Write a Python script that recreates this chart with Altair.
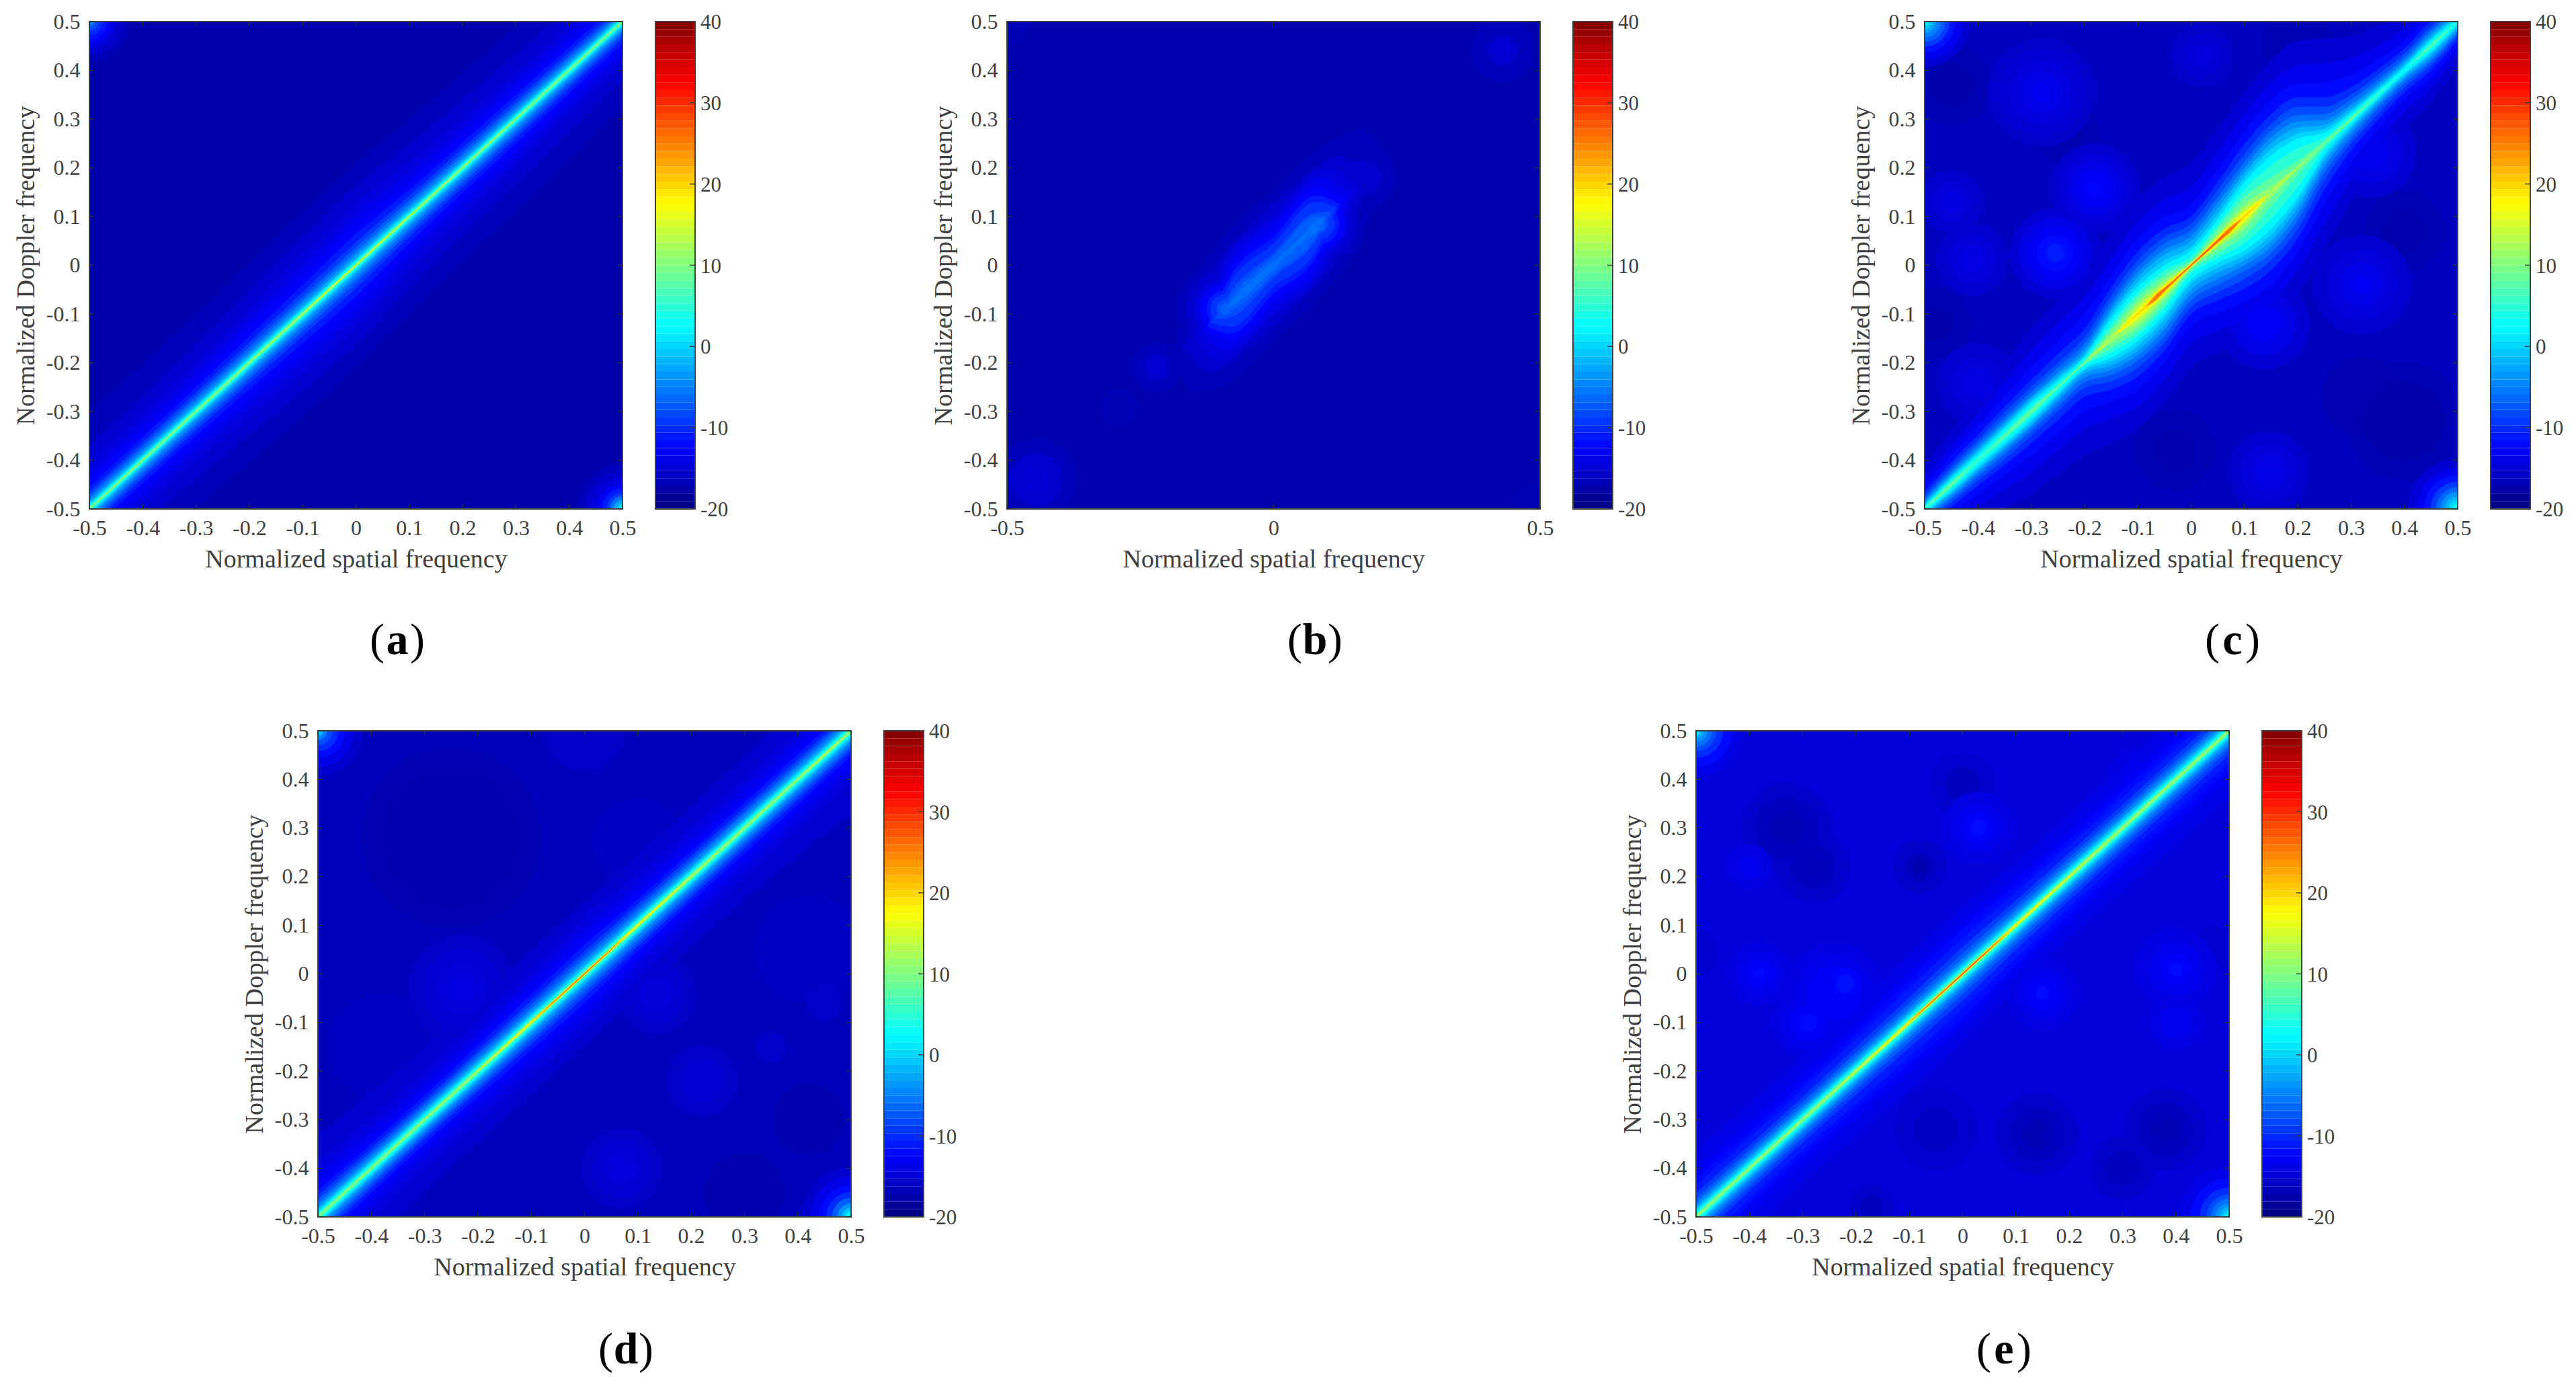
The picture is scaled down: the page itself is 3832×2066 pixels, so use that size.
import math
import altair as alt
import pandas as pd

FONT = "Liberation Serif"
INK = "#404040"
W = 793
HTOP = 725
HBOT = 723

JET_STOPS = [-20, -12.5, 2.5, 17.5, 32.5, 40]
JET_COLORS = ["#000080", "#0000ff", "#00ffff", "#ffff00", "#ff0000", "#800000"]
FULL_TICKS = [-0.5, -0.4, -0.3, -0.2, -0.1, 0, 0.1, 0.2, 0.3, 0.4, 0.5]
SPARSE_TICKS = [-0.5, 0, 0.5]
CBAR_TICKS = [-20, -10, 0, 10, 20, 30, 40]
CBAR_BINS = 64

RIDGE_KNOTS = [-0.5, -0.3, -0.1, 0, 0.1, 0.3, 0.5]
C_KNOTS = [-0.5, -0.45, -0.4, -0.35, -0.3, -0.25, -0.2, -0.15, -0.1, -0.05, 0,
           0.05, 0.1, 0.15, 0.2, 0.25, 0.3, 0.35, 0.4, 0.45, 0.5]

# panel (a)
A_BASE = -17.5
A_LEVELS = [-16.5, -15.5, -14.5, -13.5, -12.5, -11, -9, -7, -5, -3, -1, 1, 3, 5, 7, 9, 11]
A_WIDTHS = [
    [.20, .20, .21, .21, .20, .19, .18],
    [.13, .14, .16, .165, .15, .135, .12],
    [.10, .105, .125, .13, .115, .10, .09],
    [.078, .082, .10, .105, .09, .08, .072],
    [.06, .066, .08, .085, .072, .064, .058],
    [.046, .05, .06, .064, .055, .05, .045],
    [.036, .039, .045, .047, .042, .039, .035],
    [.029, .031, .035, .036, .033, .031, .028],
    [.023, .024, .027, .028, .026, .024, .022],
    [.017, .018, .02, .021, .019, .018, .017],
    [.013, .013, .015, .015, .014, .013, .0125],
    [.0095, .0095, .011, .011, .010, .0095, .009],
    [.0072, .0072, .0082, .0082, .0075, .0072, .0068],
    [.0052, .0052, .006, .006, .0055, .0052, .0048],
    [.0036, .0036, .0045, .0045, .004, .0036, .0032],
    [.0022, .0022, .0032, .0032, .0027, .0022, .002],
    [.0008, .001, .002, .0022, .0018, .001, .0006],
]
A_PIECES = [
    (13, [-.2, -.1, 0, .1, .2], [0, .0012, .0014, .0012, 0]),
    (15, [-.12, -.08, 0, .08, .12], [0, .0008, .001, .0008, 0]),
]
A_BLOBS = [
    (-.5, .5, [(-16.5, .09), (-15.5, .075), (-14.5, .06), (-13, .05), (-11.5, .04), (-10, .03), (-8, .02), (-6, .012), (-4, .006)]),
    (.5, -.5, [(-16.5, .10), (-15.5, .085), (-14.5, .07), (-13, .055), (-11, .045), (-9, .035), (-6, .028), (-3, .02), (0, .012), (3, .006)]),
]

# panel (b)
B_BASE = -17.3
B_PIECES = [
    (-16.5, [-.19, -.15, -.1, 0, .1, .16, .22], [0, .11, .15, .155, .15, .12, 0]),
    (-15.5, [-.17, -.12, -.05, .05, .12, .18], [0, .10, .125, .125, .105, 0]),
    (-14.5, [-.15, -.1, 0, .1, .16], [0, .095, .105, .10, 0]),
    (-13.5, [-.135, -.09, 0, .09, .145], [0, .085, .09, .09, 0]),
    (-12.5, [-.13, -.08, 0, .08, .135], [0, .075, .075, .08, 0]),
    (-11, [-.125, -.08, 0, .08, .125], [0, .06, .058, .063, 0]),
    (-9.5, [-.118, -.08, 0, .08, .118], [0, .046, .044, .05, 0]),
    (-8, [-.11, -.08, 0, .08, .11], [0, .026, .025, .028, 0]),
    (-7, [-.10, -.07, 0, .08, .10], [0, .018, .018, .02, 0]),
    (-6, [-.09, -.06, -.02, .02, .06, .085, .095], [0, .01, .01, .006, .008, .01, 0]),
]
B_BLOBS = [
    (.43, .44, [(-16.5, .07), (-15.5, .035), (-15, .02)]),
    (-.445, -.44, [(-16.5, .09), (-15.5, .06), (-15, .03)]),
    (-.22, -.21, [(-16.5, .055), (-15.5, .03), (-15, .015)]),
    (-.29, -.29, [(-16.8, .04)]),
    (.17, .18, [(-16.5, .07), (-15.5, .04)]),
    (-.5, .5, [(-16.8, .05)]),
    (.5, -.5, [(-16.8, .06)]),
    (-.09, -.09, [(-16.5, .106), (-15.5, .088), (-14.5, .07), (-13.5, .06), (-12.5, .053), (-11, .042), (-9.5, .033), (-8, .02), (-7, .013)]),
    (.085, .085, [(-16.5, .105), (-15.5, .088), (-14.5, .07), (-13.5, .062), (-12.5, .056), (-11, .045), (-9.5, .035), (-8, .021), (-7, .015)]),
]

# panel (c)
C_BASE = -16.3
C_LEVELS = [-15, -13.5, -12, -10, -8, -6, -4, -2, 0, 2, 5, 8, 11, 14, 17, 20]
C_WIDTHS = [
    [.09, .11, .13, .15, .17, .18, .19, .215, .235, .23, .21, .23, .255, .27, .26, .215, .17, .14, .12, .115, .09],
    [.065, .08, .095, .11, .125, .13, .135, .165, .19, .185, .16, .185, .21, .225, .21, .165, .125, .10, .085, .085, .065],
    [.048, .06, .07, .08, .09, .095, .10, .13, .155, .15, .125, .148, .175, .19, .172, .125, .09, .072, .06, .065, .05],
    [.036, .046, .052, .06, .065, .068, .07, .105, .128, .125, .10, .122, .148, .16, .145, .095, .065, .052, .045, .05, .038],
    [.028, .037, .042, .048, .05, .05, .052, .088, .11, .108, .085, .105, .128, .14, .125, .075, .05, .04, .035, .04, .03],
    [.022, .03, .034, .038, .04, .04, .04, .075, .096, .095, .072, .09, .112, .125, .108, .06, .04, .03, .027, .033, .025],
    [.017, .025, .027, .03, .032, .03, .03, .065, .085, .082, .06, .078, .10, .112, .095, .048, .03, .023, .02, .027, .02],
    [.013, .02, .022, .025, .028, .024, .022, .056, .075, .072, .05, .066, .09, .10, .082, .038, .023, .017, .015, .021, .015],
    [.009, .016, .017, .02, .022, .018, .016, .048, .065, .06, .038, .055, .08, .088, .07, .03, .017, .012, .01, .016, .01],
    [.006, .012, .012, .015, .017, .013, .012, .04, .055, .05, .03, .045, .07, .075, .06, .022, .012, .008, .006, .012, .006],
    [.003, .008, .006, .008, .010, .007, .006, .03, .045, .04, .018, .035, .055, .055, .04, .012, .007, .004, 0, .006, 0],
    [0, .004, 0, .003, .005, .002, .003, .02, .035, .03, .011, .026, .04, .03, .015, .005, .003, 0, 0, .002, 0],
    [0, 0, 0, 0, 0, 0, 0, .01, .025, .02, .007, .016, .025, .012, .004, 0, 0, 0, 0, 0, 0],
    [0, 0, 0, 0, 0, 0, 0, 0, .016, .013, .004, .01, .016, 0, 0, 0, 0, 0, 0, 0, 0],
    [0, 0, 0, 0, 0, 0, 0, 0, .008, .009, .003, .007, .009, 0, 0, 0, 0, 0, 0, 0, 0],
    [0, 0, 0, 0, 0, 0, 0, 0, .002, .006, .0025, .005, .003, 0, 0, 0, 0, 0, 0, 0, 0],
]
C_PIECES = [
    (24, [-.085, -.07, -.04, 0, .04, .08, .095], [0, .006, .002, .0018, .003, .005, 0]),
    (28, [-.08, -.06, 0, .05, .09], [0, .0012, .0012, .0015, 0]),
]
C_BLOBS = [
    (-.45, .37, [(-16.9, .09), (-17.4, .05)]),
    (-.48, -.12, [(-16.9, .08), (-17.4, .04)]),
    (.4, -.32, [(-16.9, .13), (-17.4, .09)]),
    (.32, -.27, [(-17, .09)]),
    (-.03, -.38, [(-16.9, .09), (-17.3, .05)]),
    (.4, .07, [(-16.9, .09), (-17.3, .05)]),
    (.2, .45, [(-16.9, .08)]),
    (-.23, .27, [(-16.9, .07), (-17.3, .03)]),
    (-.28, .355, [(-15.6, .12), (-15, .095), (-14.4, .07), (-13.8, .045), (-13.2, .02)]),
    (.02, .43, [(-15.6, .07), (-15, .045), (-14.5, .025)]),
    (-.18, .157, [(-15.4, .10), (-14.6, .08), (-13.8, .06), (-13, .04), (-12.3, .02)]),
    (-.255, .025, [(-15, .10), (-14, .08), (-13, .06), (-12, .04), (-11, .02)]),
    (-.41, .012, [(-15.5, .08), (-14.8, .055), (-14.2, .03)]),
    (-.45, .13, [(-15.5, .07), (-14.8, .045), (-14.2, .025)]),
    (-.4, -.243, [(-15.5, .09), (-14.8, .06), (-14.2, .035)]),
    (.146, -.423, [(-15.5, .09), (-14.8, .065), (-14.2, .04), (-13.8, .02)]),
    (.32, -.04, [(-15.4, .11), (-14.6, .08), (-13.8, .05), (-13, .02)]),
    (.137, -.12, [(-15, .10), (-14, .07), (-13, .04)]),
    (.337, .232, [(-15, .10), (-14.2, .07), (-13.5, .04)]),
    (.5, -.5, [(-15, .11), (-13.5, .09), (-11.5, .075), (-9, .06), (-6.5, .048), (-4, .038), (-2, .028), (0, .02), (2, .012)]),
    (-.5, .5, [(-15, .10), (-13.5, .085), (-11.5, .068), (-9, .055), (-7, .045), (-5, .035), (-3, .025), (-1, .018), (1, .01)]),
]

# panel (d)
D_BASE = -16.5
D_LEVELS = [-15.5, -14.5, -13.5, -12.5, -11, -9, -7, -5, -3, -1, 1, 3, 5, 7, 9, 11]
D_WIDTHS = [
    [.17, .15, .15, .15, .145, .15, .17],
    [.115, .105, .115, .12, .11, .105, .11],
    [.09, .08, .09, .095, .085, .082, .085],
    [.07, .062, .072, .076, .068, .064, .067],
    [.054, .05, .057, .06, .054, .052, .052],
    [.044, .04, .045, .047, .044, .042, .042],
    [.035, .033, .037, .038, .036, .034, .035],
    [.028, .027, .029, .03, .029, .028, .028],
    [.021, .021, .023, .023, .022, .021, .021],
    [.017, .017, .018, .018, .018, .017, .017],
    [.0125, .0125, .0135, .0135, .0135, .0125, .0125],
    [.0095, .01, .0112, .0112, .0112, .01, .0095],
    [.007, .0075, .0088, .0088, .0088, .0075, .007],
    [.0048, .0052, .0066, .0066, .0066, .0055, .0052],
    [.003, .0032, .0048, .005, .0048, .0036, .0036],
    [.0012, .0015, .0034, .0037, .0034, .0018, .002],
]
D_PIECES = [
    (14, [-.22, -.1, 0, .1, .24], [0, .0025, .0028, .0025, 0]),
    (14, [.4, .46, .49], [0, .0012, 0]),
    (18, [-.2, -.1, 0, .1, .23], [0, .0017, .002, .0015, 0]),
    (22, [-.12, -.07, 0, .06, .09], [0, .0012, .0016, .001, 0]),
    (26, [-.09, -.05, 0, .05, .07], [0, .0009, .001, .0008, 0]),
]
D_BLOBS = [
    (-.25, .28, [(-17, .2), (-17.3, .15)]),
    (.3, -.45, [(-17.1, .09)]),
    (.42, -.3, [(-17.1, .08)]),
    (-.23, -.03, [(-15.8, .12), (-15.3, .09), (-14.8, .06), (-14.3, .03)]),
    (.135, -.04, [(-15.8, .09), (-15.3, .065), (-14.8, .04)]),
    (.07, -.4, [(-15.8, .09), (-15.3, .065), (-14.8, .04), (-14.4, .02)]),
    (.22, -.22, [(-15.8, .08), (-15.2, .05)]),
    (.35, -.15, [(-15.6, .035)]),
    (.45, -.06, [(-15.6, .04)]),
    (0, .5, [(-15.8, .09)]),
    (.1, .27, [(-15.9, .10)]),
    (-.38, -.15, [(-16, .12)]),
    (.42, .05, [(-16, .12)]),
    (.5, -.5, [(-15.5, .11), (-14, .09), (-12, .07), (-10, .055), (-7, .042), (-4, .03), (-1, .02), (2, .012)]),
    (-.5, .5, [(-15.5, .10), (-14, .08), (-12, .06), (-10, .045), (-8, .032), (-5, .02), (-2, .012), (1, .006)]),
]

# panel (e)
E_BASE = -14.8
E_LEVELS = [-14, -13, -12, -11, -9, -7, -5, -3, -1, 1, 3, 5, 7, 9, 11]
E_WIDTHS = [
    [.14, .13, .14, .14, .13, .13, .14],
    [.10, .095, .105, .11, .10, .095, .10],
    [.08, .075, .087, .092, .082, .077, .08],
    [.065, .063, .071, .073, .068, .063, .065],
    [.049, .047, .052, .055, .051, .048, .049],
    [.038, .037, .04, .042, .04, .038, .038],
    [.03, .029, .031, .032, .031, .03, .03],
    [.023, .023, .024, .025, .024, .023, .023],
    [.018, .018, .019, .02, .019, .019, .018],
    [.0135, .0135, .0148, .015, .0148, .0135, .0135],
    [.0102, .0102, .0115, .012, .0115, .0108, .0102],
    [.008, .008, .0092, .0098, .0092, .0085, .008],
    [.0056, .0056, .0072, .0078, .0072, .0064, .0056],
    [.0038, .0038, .0058, .006, .0058, .0045, .004],
    [.0022, .0022, .0042, .0045, .0042, .0028, .0025],
]
E_PIECES = [
    (14, [-.25, -.1, 0, .1, .28], [0, .003, .0032, .003, 0]),
    (18, [-.21, -.1, 0, .1, .22], [0, .002, .0024, .0018, 0]),
    (22, [-.12, -.07, 0, .07, .1], [0, .0016, .002, .0015, 0]),
    (26, [-.1, -.06, 0, .05, .08], [0, .0012, .0014, .0012, 0]),
    (30, [-.03, 0, .05], [0, .0008, 0]),
]
E_BLOBS = [
    (-.33, .3, [(-15.6, .10), (-16.2, .07), (-16.8, .04)]),
    (-.28, .22, [(-15.6, .08), (-16.2, .05), (-16.6, .03)]),
    (-.08, .22, [(-15.6, .06), (-16.5, .03), (-17.2, .015)]),
    (0, .39, [(-15.5, .07), (-16.2, .04)]),
    (.14, -.33, [(-15.6, .09), (-16.2, .06), (-16.8, .035)]),
    (.38, -.32, [(-15.6, .09), (-16.2, .06), (-16.8, .035)]),
    (.3, -.4, [(-15.6, .07), (-16.2, .04)]),
    (-.05, -.32, [(-15.5, .09), (-16, .05)]),
    (-.17, -.48, [(-15.6, .05), (-16.3, .025)]),
    (.47, .05, [(-15.4, .05)]),
    (-.5, .04, [(-15.4, .05)]),
    (-.38, 0, [(-14.2, .07), (-13.6, .05), (-12.8, .03), (-12, .012)]),
    (-.24, -.04, [(-14.2, .11), (-13.6, .085), (-13, .06)]),
    (-.29, -.1, [(-14.2, .08), (-13.6, .06), (-12.8, .04), (-12, .02)]),
    (-.22, -.02, [(-12.4, .035), (-11.6, .02)]),
    (.15, -.04, [(-14.2, .08), (-13.5, .055), (-12.6, .035), (-11.8, .015)]),
    (.4, .01, [(-14.2, .09), (-13.5, .06), (-12.6, .035), (-11.8, .015)]),
    (.4, -.1, [(-14.2, .06), (-13.4, .035)]),
    (.03, .3, [(-14.2, .08), (-13.5, .055), (-12.6, .035), (-11.8, .018)]),
    (-.4, .22, [(-14.2, .05), (-13.4, .025)]),
    (.33, .4, [(-14.2, .07), (-13.5, .04)]),
    (.5, -.5, [(-14, .11), (-12, .085), (-10, .065), (-8, .05), (-6, .04), (-4, .03), (-2, .022), (0, .015), (2, .009)]),
    (-.5, .5, [(-14, .10), (-12, .08), (-10, .06), (-8, .045), (-6, .035), (-4, .025), (-2, .017), (0, .011), (2, .006)]),
]

COLOR = alt.Scale(domain=JET_STOPS, range=JET_COLORS, interpolate="rgb")
XS = alt.Scale(domain=[-0.5, 0.5], nice=False, zero=False)
YS = alt.Scale(domain=[-0.5, 0.5], nice=False, zero=False)
RPX = 760
SIZE = alt.Scale(type="pow", exponent=2, domain=[0, 1], range=[0, math.pi * RPX * RPX])


def band_layer(v, xs, ws):
    df = pd.DataFrame({
        "x": xs,
        "y1": [x - w for x, w in zip(xs, ws)],
        "y2": [x + w for x, w in zip(xs, ws)],
        "v": [v] * len(xs),
    })
    return alt.Chart(df).mark_area(clip=True, interpolate="monotone").encode(
        x=alt.X("x:Q", scale=XS),
        y=alt.Y("y1:Q", scale=YS),
        y2="y2:Q",
        color=alt.Color("v:Q", scale=COLOR, legend=None),
    )


def blob_layer(rows):
    df = pd.DataFrame(rows, columns=["x", "y", "v", "r"])
    return alt.Chart(df).mark_circle(clip=True, opacity=1).encode(
        x=alt.X("x:Q", scale=XS),
        y=alt.Y("y:Q", scale=YS),
        color=alt.Color("v:Q", scale=COLOR, legend=None),
        size=alt.Size("r:Q", scale=SIZE, legend=None),
    )


def panel(base, knots, levels, widths, pieces, blobs, xticks, letter, H):
    lbl = dict(labelFont=FONT, labelFontSize=32, labelColor=INK, titleFont=FONT, titleFontSize=38,
               titleColor=INK, titleFontWeight="normal", ticks=False, domain=False, grid=False,
               labelExpr="'' + datum.value", labelOverlap=False, labelFlush=False)
    base_df = pd.DataFrame({"x": [-.5], "x2": [.5], "y": [-.5], "y2": [.5], "v": [base]})
    layers = [alt.Chart(base_df).mark_rect().encode(
        x=alt.X("x:Q", scale=XS, axis=alt.Axis(values=xticks, title="Normalized spatial frequency",
                                               labelPadding=13, titlePadding=12, **lbl)),
        x2="x2:Q",
        y=alt.Y("y:Q", scale=YS, axis=alt.Axis(values=FULL_TICKS, title="Normalized Doppler frequency",
                                               labelPadding=14, titlePadding=10, **lbl)),
        y2="y2:Q",
        color=alt.Color("v:Q", scale=COLOR, legend=None),
    )]
    rows = [(x, y, v, r) for x, y, rings in blobs for v, r in rings]
    items = []
    for v, ws in zip(levels, widths):
        items.append((v, 0, band_layer(v, knots, ws)))
    for v, xs, ws in pieces:
        items.append((v, 0, band_layer(v, xs, ws)))
    for v in sorted({b[2] for b in rows}):
        items.append((v, 1, blob_layer([b for b in rows if b[2] == v])))
    # below the base value the darker rings go later; above it the brighter ones do
    items.sort(key=lambda t: (0, -t[0], t[1]) if t[0] < base else (1, t[0], t[1]))
    layers += [t[2] for t in items]

    # colour bar, mapped onto the panel's vertical extent
    edges = [-20 + 60 * i / CBAR_BINS for i in range(CBAR_BINS + 1)]
    cb = pd.DataFrame({
        "y": [(e + 20) / 60 - .5 for e in edges[:-1]],
        "y2": [(e + 20) / 60 - .5 for e in edges[1:]],
        "v": [(edges[i] + edges[i + 1]) / 2 for i in range(CBAR_BINS)],
    })
    cx0, cx1 = W + 49, W + 108
    layers.append(alt.Chart(cb).mark_rect().encode(
        x=alt.value(cx0), x2=alt.value(cx1),
        y=alt.Y("y:Q", scale=YS), y2="y2:Q",
        color=alt.Color("v:Q", scale=COLOR, legend=None),
    ))
    frame = alt.Chart(pd.DataFrame({"y": [-.5], "y2": [.5]}))
    layers.append(frame.mark_rect(filled=False, stroke=INK, strokeWidth=2).encode(
        x=alt.value(cx0), x2=alt.value(cx1), y=alt.Y("y:Q", scale=YS), y2="y2:Q"))
    layers.append(frame.mark_rect(filled=False, stroke=INK, strokeWidth=2).encode(
        x=alt.value(0), x2=alt.value(W), y=alt.Y("y:Q", scale=YS), y2="y2:Q"))

    ct = pd.DataFrame({"y": [(t + 20) / 60 - .5 for t in CBAR_TICKS], "t": [str(t) for t in CBAR_TICKS]})
    layers.append(alt.Chart(ct).mark_rule(color=INK, strokeWidth=1.5).encode(
        x=alt.value(cx1 - 8), x2=alt.value(cx1), y=alt.Y("y:Q", scale=YS)))
    layers.append(alt.Chart(ct).mark_text(font=FONT, fontSize=31, color=INK, align="left", baseline="middle", dy=2).encode(
        x=alt.value(cx1 + 8), y=alt.Y("y:Q", scale=YS), text="t:N"))

    xt = pd.DataFrame({"x": xticks})
    yt = pd.DataFrame({"y": FULL_TICKS})
    tk = dict(color="#303030", strokeWidth=1.5)
    layers.append(alt.Chart(xt).mark_rule(**tk).encode(x=alt.X("x:Q", scale=XS), y=alt.value(H), y2=alt.value(H - 7)))
    layers.append(alt.Chart(xt).mark_rule(**tk).encode(x=alt.X("x:Q", scale=XS), y=alt.value(0), y2=alt.value(7)))
    layers.append(alt.Chart(yt).mark_rule(**tk).encode(y=alt.Y("y:Q", scale=YS), x=alt.value(0), x2=alt.value(7)))
    layers.append(alt.Chart(yt).mark_rule(**tk).encode(y=alt.Y("y:Q", scale=YS), x=alt.value(W - 7), x2=alt.value(W)))

    # panel letter: "(" regular, letter bold, ")" regular
    cx, half, ly = 458, 19, 921
    for txt, px, al, wt in [("(", cx - half, "right", "normal"), (letter, cx, "center", "bold"), (")", cx + half, "left", "normal")]:
        layers.append(alt.Chart(pd.DataFrame({"t": [txt]})).mark_text(
            font=FONT, fontSize=66, fontWeight=wt, color="#000000", align=al, baseline="middle").encode(
            text="t:N", x=alt.value(px), y=alt.value(ly)))
    return alt.layer(*layers).properties(width=W, height=H)


def spacer(w):
    return alt.Chart(pd.DataFrame({"a": [0]})).mark_point(opacity=0).encode(
        x=alt.value(0), y=alt.value(0)).properties(width=w, height=10)


pa = panel(A_BASE, RIDGE_KNOTS, A_LEVELS, A_WIDTHS, A_PIECES, A_BLOBS, FULL_TICKS, "a", HTOP)
pb = panel(B_BASE, RIDGE_KNOTS, [], [], B_PIECES, B_BLOBS, SPARSE_TICKS, "b", HTOP)
pc = panel(C_BASE, C_KNOTS, C_LEVELS, C_WIDTHS, C_PIECES, C_BLOBS, FULL_TICKS, "c", HTOP)
pd_ = panel(D_BASE, RIDGE_KNOTS, D_LEVELS, D_WIDTHS, D_PIECES, D_BLOBS, FULL_TICKS, "d", HBOT)
pe = panel(E_BASE, RIDGE_KNOTS, E_LEVELS, E_WIDTHS, E_PIECES, E_BLOBS, FULL_TICKS, "e", HBOT)

row1 = alt.hconcat(pa, pb, pc, spacing=572, bounds="flush")
row2 = alt.hconcat(spacer(240), pd_, spacer(1057), pe, spacing=100, bounds="flush")
chart = alt.vconcat(row1, row2, spacing=83, padding={"left": 11, "top": 7, "right": 0, "bottom": 0}).configure_view(
    stroke="transparent")
chart.save("out.html", embed_options={"renderer": "svg", "actions": False})
